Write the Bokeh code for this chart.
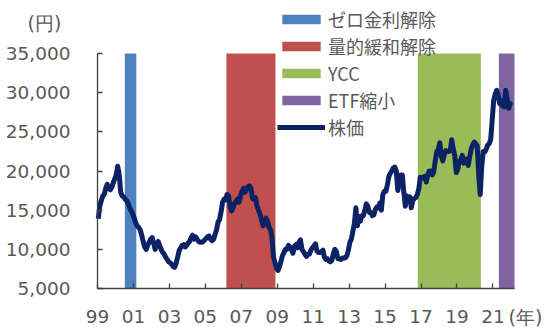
from bokeh.plotting import figure
from bokeh.models import (Range1d, FixedTicker, NumeralTickFormatter, Legend,
                          LegendItem, Label)
from bokeh.embed import file_html
from bokeh.resources import INLINE

# ---- data ----
start_year = 1999
# monthly representative stock-price levels (yen), Jan 1999 .. Dec 2021, then Jan 2022
prices = [
    # 1999
    13900, 15500, 16200, 16800, 17000, 17800, 18300, 17800, 17600, 17900, 18500, 19000,
    # 2000
    19500, 20600, 19500, 17300, 16800, 16700, 16400, 16200, 15800, 15300, 14900, 14500,
    # 2001
    14000, 13400, 13000, 12800, 12500, 11800, 11000, 10300, 10000, 10500, 10900, 11300,
    # 2002
    11500, 10800, 10000, 10700, 11000, 10500, 10000, 9600, 9400, 9000, 8700, 8400,
    # 2003
    8300, 8100, 7800, 7700, 8200, 9000, 9800, 10200, 10500, 10600, 10300, 10500,
    # 2004
    10800, 11000, 11500, 11800, 11300, 11600, 11300, 11000, 10900, 10900, 11000, 11200,
    # 2005
    11400, 11600, 11700, 11300, 11100, 11300, 11900, 12500, 13500, 13800, 14800, 16000,
    # 2006
    16400, 16300, 17000, 16800, 15500, 14900, 15300, 15900, 16100, 16400, 16000, 16800,
    # 2007
    17400, 17800, 17300, 17600, 18000, 18100, 17800, 16500, 16400, 16600, 15500, 15000,
    # 2008
    14500, 13800, 13000, 13500, 14000, 13600, 12800, 12500, 11500, 9000, 8300, 7600,
    # 2009
    7300, 7800, 8500, 9200, 9600, 10000, 10000, 10500, 10300, 10000, 9500, 10400,
    # 2010
    10600, 10200, 10900, 11200, 10000, 9700, 9400, 9100, 9400, 9400, 9900, 10200,
    # 2011
    10400, 10700, 9800, 9600, 9600, 9700, 9900, 9000, 8700, 8800, 8500, 8400,
    # 2012
    8600, 9500, 10000, 9700, 8800, 8800, 8700, 8900, 8900, 8900, 9200, 9900,
    # 2013
    10900, 11300, 12300, 13300, 15300, 13000, 14200, 13600, 14300, 14300, 15000, 15800,
    # 2014
    15500, 14700, 14700, 14300, 14400, 15100, 15400, 15300, 15900, 15000, 17000, 17400,
    # 2015
    17400, 18200, 19300, 19700, 20000, 20400, 20500, 20000, 17500, 18500, 19500, 19500,
    # 2016
    17300, 15500, 16800, 16500, 16700, 15300, 16200, 16500, 16600, 17000, 17700, 19200,
    # 2017
    19100, 19200, 19300, 18600, 19500, 20000, 20000, 19500, 19900, 21300, 22500, 22700,
    # 2018
    23600, 21900, 21300, 22100, 22600, 22500, 22500, 22600, 24000, 22800, 22000, 19800,
    # 2019
    20200, 21200, 21400, 22000, 21000, 21200, 21500, 20700, 21800, 22800, 23300, 23700,
    # 2020
    23500, 23200, 19500, 17000, 20500, 22500, 22400, 22800, 23300, 23500, 24000, 26500,
    # 2021
    29000, 29800, 30300, 29700, 28600, 29000, 28300, 28200, 30300, 29200, 28000, 28600,
    # 2022
    28400,
]

band_names = ["ゼロ金利解除", "量的緩和解除", "YCC", "ETF縮小"]
band_start = [2000.52, 2006.17, 2016.82, 2021.33]
band_end = [2001.16, 2008.90, 2020.33, 2022.20]
band_colors = ["#4F81BD", "#C0504D", "#9BBB59", "#8064A2"]

line_name = "株価"
y_ticks = [5000, 10000, 15000, 20000, 25000, 30000, 35000]
x_ticks = [1999, 2001, 2003, 2005, 2007, 2009, 2011, 2013, 2015, 2017, 2019, 2021]
x_tick_labels = ["99", "01", "03", "05", "07", "09", "11", "13", "15", "17", "19", "21"]
y_unit = "(円)"
x_unit = "(年)"

# ---- layout geometry (pixels on the 550x327 canvas) ----
W, H = 550, 327
ax_left, ax_right, ax_top, ax_bottom = 97, 514, 53, 288
x0, x1 = 1999.0, 2022.2      # axis extent (data)
y0, y1 = 5000, 35000
xs = (x1 - x0) / (ax_right - ax_left)
ys = (y1 - y0) / (ax_bottom - ax_top)
x_lo, x_hi = x0 - ax_left * xs, x1 + (W - ax_right) * xs
y_lo, y_hi = y0 - (H - ax_bottom) * ys, y1 + ax_top * ys

def dx(px):
    return x_lo + px * xs

def dy(py):
    return y_hi - py * ys

p = figure(width=W, height=H, output_backend="svg", toolbar_location=None,
           x_range=Range1d(x_lo, x_hi), y_range=Range1d(y_lo, y_hi),
           min_border_left=0, min_border_right=0, min_border_top=0,
           min_border_bottom=0)
p.outline_line_color = None
p.grid.visible = False
p.background_fill_color = "white"
p.border_fill_color = "white"

grey = "#595959"
axis_col = "#404040"

band_renderers = []
for name, s, e, c in zip(band_names, band_start, band_end, band_colors):
    r = p.quad(left=[s], right=[e], bottom=[y0], top=[y1],
               fill_color=c, line_color=None)
    band_renderers.append((name, r))

months = [start_year + (i + 0.5) / 12 for i in range(len(prices))]
line_r = p.line(months, prices, line_color="#0B2265", line_width=5,
                line_join="round")

# axes (drawn at fixed data locations inside the full-canvas frame)
yax = p.yaxis[0]
yax.ticker = FixedTicker(ticks=y_ticks)
yax.formatter = NumeralTickFormatter(format="0,0")
yax.fixed_location = x0
yax.bounds = (y0, y1)
xax = p.xaxis[0]
xax.ticker = FixedTicker(ticks=x_ticks)
xax.major_label_overrides = {t: l for t, l in zip(x_ticks, x_tick_labels)}
xax.fixed_location = y0
xax.bounds = (x0, x1)
for ax in (xax, yax):
    ax.axis_line_color = axis_col
    ax.axis_line_width = 1.3
    ax.major_tick_line_color = axis_col
    ax.major_tick_line_width = 1.3
    ax.major_tick_in = 5
    ax.major_tick_out = 0
    ax.minor_tick_line_color = None
    ax.major_label_text_font = "DejaVu Sans"
    ax.major_label_text_font_size = "18.5px"
    ax.major_label_text_color = grey
yax.major_label_standoff = 27
xax.major_label_standoff = 21

# legend
items = [LegendItem(label=n, renderers=[r]) for n, r in band_renderers]
items.append(LegendItem(label=line_name, renderers=[line_r]))
legend = Legend(items=items, location=(277, H - 140), orientation="vertical",
                glyph_width=48, glyph_height=12, label_standoff=3,
                spacing=1, label_height=20, padding=0, margin=0,
                border_line_color=None, background_fill_alpha=0,
                label_text_font="Noto Sans CJK JP", label_text_font_size="18px",
                label_text_color=grey)
p.add_layout(legend, "center")

# unit labels
p.add_layout(Label(x=dx(44), y=dy(22), text=y_unit, text_align="center",
                   text_baseline="middle", text_font="DejaVu Sans",
                   text_font_size="19px", text_color=grey))
p.add_layout(Label(x=dx(525), y=dy(316), text=x_unit, text_align="center",
                   text_baseline="middle", text_font="DejaVu Sans",
                   text_font_size="19px", text_color=grey))

open("out.html", "w").write(file_html(p, INLINE))
